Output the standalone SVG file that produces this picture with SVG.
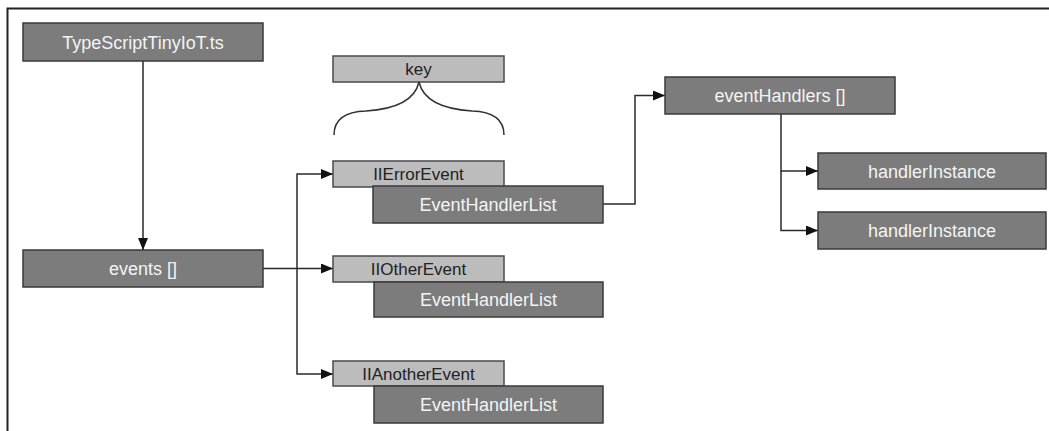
<svg xmlns="http://www.w3.org/2000/svg" width="1049" height="431" viewBox="0 0 1049 431">
  <style>
    .dark rect { fill: #7c7c7c; stroke: #3a3a3a; stroke-width: 1.5; }
    .light rect { fill: #bcbcbc; stroke: #4a4a4a; stroke-width: 1.5; }
    .dark text { fill: #f4f4f4; font-family: "Liberation Sans", Arial, sans-serif; font-size: 18px; text-anchor: middle; }
    .light text { fill: #222222; font-family: "Liberation Sans", Arial, sans-serif; font-size: 17px; text-anchor: middle; }
    .conn path { fill: none; stroke: #2a2a2a; stroke-width: 1.5; }
    .brace { fill: none; stroke: #333333; stroke-width: 1.5; }
  </style>
  <defs>
    <marker id="arrow" viewBox="0 0 12 10" refX="12" refY="5" markerWidth="12" markerHeight="10" markerUnits="userSpaceOnUse" orient="auto">
      <path d="M0,0 L12,5 L0,10 Z" fill="#111111"/>
    </marker>
  </defs>
  <rect x="0" y="0" width="1049" height="431" fill="#ffffff"/>
  <!-- frame -->
  <path d="M7.5,431 V8.5 H1049" fill="none" stroke="#222222" stroke-width="2"/>

  <g class="conn">
    <path d="M143,61 V250" marker-end="url(#arrow)"/>
    <path d="M263,268.5 H333" marker-end="url(#arrow)"/>
    <path d="M297,268.5 V174 H333" marker-end="url(#arrow)"/>
    <path d="M297,268.5 V374 H333" marker-end="url(#arrow)"/>
    <path d="M603,204 H635 V95.5 H665" marker-end="url(#arrow)"/>
    <path d="M781,114 V171 H818" marker-end="url(#arrow)"/>
    <path d="M781,171 V230.5 H818" marker-end="url(#arrow)"/>
  </g>

  <g id="n-ts" class="dark">
    <rect x="23" y="23" width="240" height="38"/>
    <text x="143" y="48.5">TypeScriptTinyIoT.ts</text>
  </g>
  <g id="n-events" class="dark">
    <rect x="23" y="250" width="240" height="37"/>
    <text x="143" y="275">events []</text>
  </g>

  <g id="n-key" class="light">
    <rect x="333" y="56" width="171" height="26"/>
    <text x="418.5" y="75">key</text>
  </g>
  <path id="key-brace" class="brace" d="M334,135 Q334,112 366,111 Q413,108 419,82 M504,135 Q504,112 472,111 Q425,108 419,82"/>

  <g id="n-ierror" class="light">
    <rect x="333" y="161" width="171" height="26"/>
    <text x="418.5" y="180">IIErrorEvent</text>
  </g>
  <g id="n-ehl1" class="dark">
    <rect x="373" y="186" width="230" height="37"/>
    <text x="488" y="211">EventHandlerList</text>
  </g>

  <g id="n-iother" class="light">
    <rect x="333" y="256" width="171" height="26"/>
    <text x="418.5" y="275">IIOtherEvent</text>
  </g>
  <g id="n-ehl2" class="dark">
    <rect x="374" y="282" width="229" height="35"/>
    <text x="488.5" y="306">EventHandlerList</text>
  </g>

  <g id="n-ianother" class="light">
    <rect x="333" y="361" width="171" height="25"/>
    <text x="418.5" y="379.5">IIAnotherEvent</text>
  </g>
  <g id="n-ehl3" class="dark">
    <rect x="374" y="386" width="229" height="37"/>
    <text x="488.5" y="411">EventHandlerList</text>
  </g>

  <g id="n-eventhandlers" class="dark">
    <rect x="665" y="77" width="230" height="37"/>
    <text x="780" y="102">eventHandlers []</text>
  </g>
  <g id="n-handler1" class="dark">
    <rect x="818" y="153" width="228" height="36"/>
    <text x="932" y="177.5">handlerInstance</text>
  </g>
  <g id="n-handler2" class="dark">
    <rect x="818" y="212" width="228" height="37"/>
    <text x="932" y="237">handlerInstance</text>
  </g>
</svg>
